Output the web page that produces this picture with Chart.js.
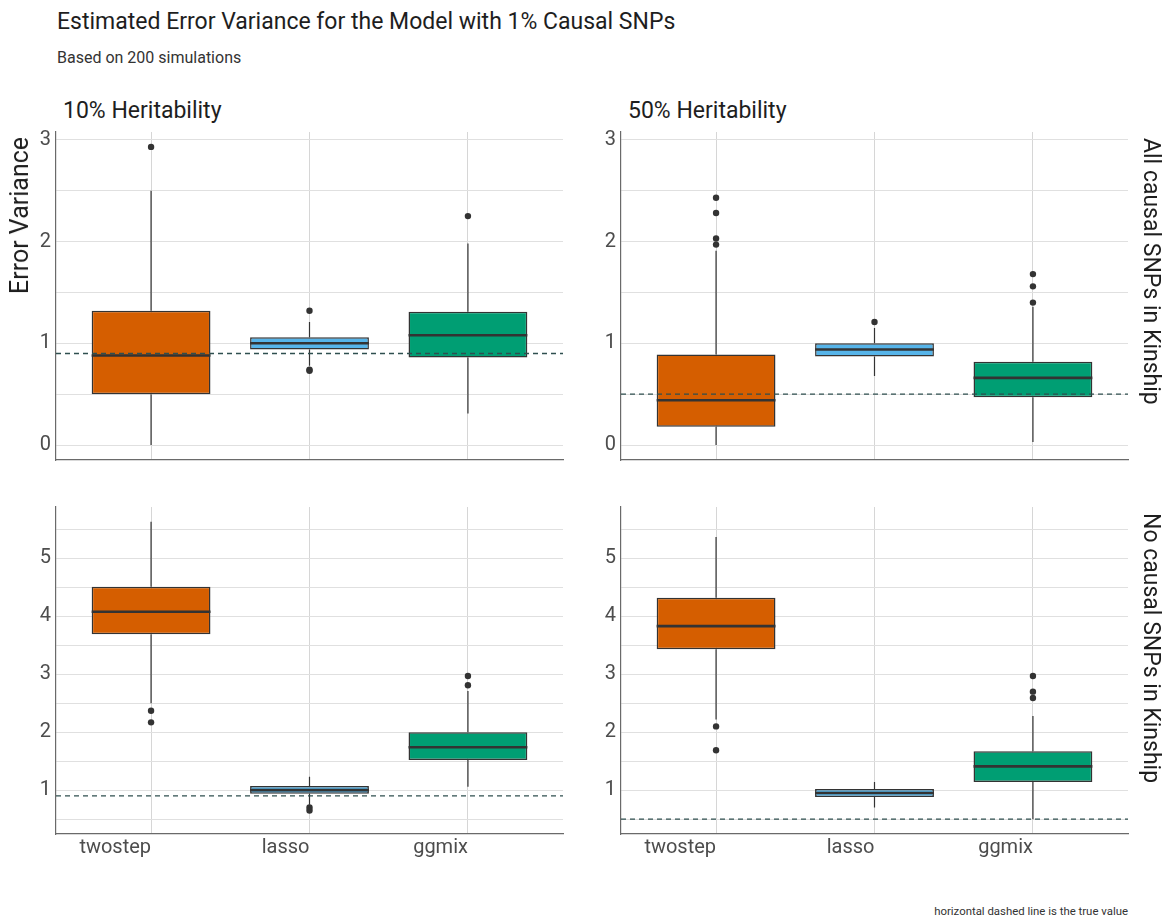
<!DOCTYPE html>
<html>
<head>
<meta charset="utf-8">
<script src="https://cdn.jsdelivr.net/npm/chart.js@4.4.1/dist/chart.umd.min.js"></script>
<style>
  body { margin: 0; background: #fff; font-family: Roboto, "Noto Sans", sans-serif; }
  #page { position: relative; width: 1167px; height: 920px; overflow: hidden; }
  .box { position: absolute; }
  .txt { position: absolute; white-space: nowrap; line-height: 1; color: #1e1e1e; }
  .vdown { writing-mode: vertical-rl; }
  .vup { writing-mode: vertical-rl; transform: rotate(180deg); }
</style>
</head>
<body>
<div id="page">
  <div class="box" id="p0" style="left:0;top:125px"><canvas id="c0" width="572" height="345"></canvas></div>
  <div class="box" id="p1" style="left:572px;top:125px"><canvas id="c1" width="590" height="345"></canvas></div>
  <div class="box" id="p2" style="left:0;top:500px"><canvas id="c2" width="572" height="370"></canvas></div>
  <div class="box" id="p3" style="left:572px;top:500px"><canvas id="c3" width="590" height="370"></canvas></div>

  <div class="txt" id="title" style="left:57px;top:10px;font-size:23px"></div>
  <div class="txt" id="subtitle" style="left:57px;top:50px;font-size:16px;color:#333"></div>
  <div class="txt" id="strip0" style="left:63px;top:99px;font-size:23px"></div>
  <div class="txt" id="strip1" style="left:628px;top:99px;font-size:23px"></div>
  <div class="txt vdown" id="row0" style="left:1140px;top:138px;font-size:23px"></div>
  <div class="txt vdown" id="row1" style="left:1140px;top:513px;font-size:23px"></div>
  <div class="txt vup" id="ytitle" style="left:7px;top:137px;font-size:25px"></div>
  <div class="txt" id="caption" style="right:39px;top:906px;font-size:11.4px;color:#333"></div>
</div>

<script>
// categories and facets
const methods = ['twostep', 'lasso', 'ggmix'];
const heritability = ['10% Heritability', '50% Heritability'];
const kinship = ['All causal SNPs in Kinship', 'No causal SNPs in Kinship'];
const boxColors = ['#D55E00', '#56B4E9', '#009E73'];

// panel order: All/10%, All/50%, No/10%, No/50%
const trueValue = [0.9, 0.5, 0.9, 0.5];
const whiskerLow = [[0.00, 0.78, 0.31], [0.00, 0.68, 0.03], [2.50, 0.75, 1.06], [2.22, 0.70, 0.50]];
const q1 = [[0.50, 0.94, 0.86], [0.18, 0.87, 0.47], [3.69, 0.94, 1.52], [3.43, 0.88, 1.14]];
const median = [[0.88, 1.00, 1.08], [0.44, 0.94, 0.66], [4.08, 1.00, 1.74], [3.83, 0.95, 1.41]];
const q3 = [[1.32, 1.06, 1.31], [0.89, 1.00, 0.82], [4.51, 1.07, 2.00], [4.32, 1.02, 1.67]];
const whiskerHigh = [[2.50, 1.21, 1.98], [1.91, 1.15, 1.36], [5.63, 1.23, 2.71], [5.37, 1.14, 2.28]];
const outliers = [
  [[2.93], [1.32, 0.74, 0.73], [2.25]],
  [[2.43, 2.28, 2.03, 1.97], [1.21], [1.68, 1.56, 1.40]],
  [[2.37, 2.17], [0.70, 0.65], [2.97, 2.81]],
  [[2.10, 1.69], [], [2.97, 2.70, 2.59]]
];

// tick values for each row of panels
const yTicksTop = [0, 0.5, 1, 1.5, 2, 2.5, 3];
const yTicksBottom = [0.5, 1, 1.5, 2, 2.5, 3, 3.5, 4, 4.5, 5, 5.5];

document.getElementById('title').textContent = 'Estimated Error Variance for the Model with 1% Causal SNPs';
document.getElementById('subtitle').textContent = 'Based on 200 simulations';
document.getElementById('strip0').textContent = heritability[0];
document.getElementById('strip1').textContent = heritability[1];
document.getElementById('row0').textContent = kinship[0];
document.getElementById('row1').textContent = kinship[1];
document.getElementById('ytitle').textContent = 'Error Variance';
document.getElementById('caption').textContent = 'horizontal dashed line is the true value';

Chart.defaults.font.family = 'Roboto, "Noto Sans", sans-serif';
Chart.defaults.animation = false;

// discrete axis with ggplot's 0.6 expansion
const X_MIN = -0.6, X_MAX = 2.6;

// y range per row: data range plus 5% each side
function rowRange(panels) {
  let lo = Infinity, hi = -Infinity;
  panels.forEach(p => {
    const vals = whiskerLow[p].concat(whiskerHigh[p], outliers[p].flat(), [trueValue[p]]);
    lo = Math.min(lo, ...vals);
    hi = Math.max(hi, ...vals);
  });
  const pad = (hi - lo) * 0.05;
  return [lo - pad, hi + pad];
}
const ranges = [rowRange([0, 1]), rowRange([2, 3])];

const medianLines = {
  id: 'medianLines',
  afterDatasetDraw(chart, args) {
    const ds = chart.data.datasets[args.index];
    if (!ds.medians) return;
    const ctx = chart.ctx, y = chart.scales.y;
    ctx.save();
    ctx.strokeStyle = '#333333';
    ctx.lineWidth = 2.6;
    args.meta.data.forEach((bar, i) => {
      const py = y.getPixelForValue(ds.medians[i]);
      ctx.beginPath();
      ctx.moveTo(bar.x - bar.width / 2, py);
      ctx.lineTo(bar.x + bar.width / 2, py);
      ctx.stroke();
    });
    ctx.restore();
  }
};

const layouts = [
  { yw: 56, pr: 9, pt: 7, pb: 10, xh: 0 },
  { yw: 49, pr: 34, pt: 7, pb: 10, xh: 0 },
  { yw: 56, pr: 9, pt: 7, pb: 6, xh: 30 },
  { yw: 49, pr: 34, pt: 7, pb: 6, xh: 30 }
];

function makePanel(p) {
  const row = p < 2 ? 0 : 1;
  const lay = layouts[p];
  const yTicks = row === 0 ? yTicksTop : yTicksBottom;

  const whiskerPts = [];
  methods.forEach((m, i) => {
    whiskerPts.push({ x: i, y: whiskerLow[p][i] }, { x: i, y: q1[p][i] }, { x: i, y: null });
    whiskerPts.push({ x: i, y: q3[p][i] }, { x: i, y: whiskerHigh[p][i] }, { x: i, y: null });
  });
  const outlierPts = [];
  outliers[p].forEach((list, i) => list.forEach(v => outlierPts.push({ x: i, y: v })));

  new Chart(document.getElementById('c' + p), {
    type: 'bar',
    data: {
      datasets: [
        {
          type: 'line',
          data: [{ x: X_MIN, y: trueValue[p] }, { x: X_MAX, y: trueValue[p] }],
          borderColor: '#2f4f4f',
          borderWidth: 1.3,
          borderDash: [5, 4],
          pointRadius: 0,
          order: 0
        },
        {
          type: 'scatter',
          data: outlierPts,
          pointRadius: 3.2,
          pointBackgroundColor: '#333333',
          pointBorderWidth: 0,
          order: 1
        },
        {
          data: methods.map((m, i) => ({ x: i, y: [q1[p][i], q3[p][i]] })),
          medians: median[p],
          backgroundColor: boxColors,
          borderColor: '#333333',
          borderWidth: 1.5,
          borderSkipped: false,
          grouped: false,
          categoryPercentage: 1,
          barPercentage: 0.75,
          order: 2
        },
        {
          type: 'line',
          data: whiskerPts,
          borderColor: '#333333',
          borderWidth: 1.2,
          pointRadius: 0,
          spanGaps: false,
          order: 3
        }
      ]
    },
    options: {
      responsive: false,
      animation: false,
      layout: { padding: { left: 0, right: lay.pr, top: lay.pt, bottom: lay.pb } },
      plugins: { legend: { display: false }, tooltip: { enabled: false } },
      scales: {
        x: {
          type: 'linear',
          min: X_MIN,
          max: X_MAX,
          offset: false,
          grid: { offset: false, color: '#d6d6d6', lineWidth: 1, drawTicks: false },
          border: { display: true, color: '#6a6a6a', width: 1.2 },
          afterBuildTicks: axis => { axis.ticks = methods.map((m, i) => ({ value: i })); },
          afterFit: axis => {
            axis.height = lay.xh;
            axis.paddingLeft = 0;
            axis.paddingRight = 0;
          },
          ticks: {
            display: lay.xh > 0,
            align: 'end',
            maxRotation: 0,
            autoSkip: false,
            padding: 2,
            color: '#4d4d4d',
            font: { size: 20 },
            callback: v => methods[v]
          }
        },
        y: {
          type: 'linear',
          min: ranges[row][0],
          max: ranges[row][1],
          grid: { color: '#e0e0e0', lineWidth: 1, drawTicks: false },
          border: { display: true, color: '#6a6a6a', width: 1.2 },
          afterBuildTicks: axis => { axis.ticks = yTicks.map(v => ({ value: v })); },
          afterFit: axis => {
            axis.width = lay.yw;
            axis.paddingTop = 0;
            axis.paddingBottom = 0;
          },
          ticks: {
            padding: 5,
            color: '#4d4d4d',
            font: { size: 20 },
            callback: v => (Number.isInteger(v) ? String(v) : '')
          }
        }
      }
    },
    plugins: [medianLines]
  });
}

[0, 1, 2, 3].forEach(makePanel);
</script>
</body>
</html>
